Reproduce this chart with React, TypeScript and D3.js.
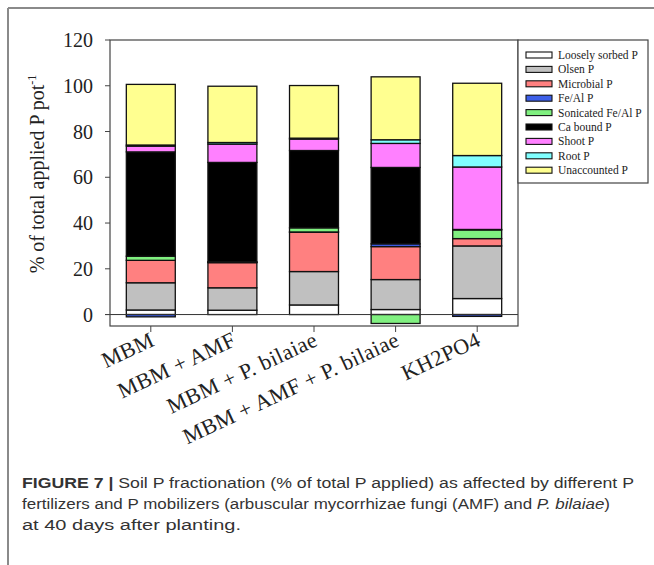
import React from 'react'
import * as d3 from 'd3'

const treatments = ['MBM', 'MBM + AMF', 'MBM + P. bilaiae', 'MBM + AMF + P. bilaiae', 'KH2PO4']

const fractions = [
  'Loosely sorbed P',
  'Olsen P',
  'Microbial P',
  'Fe/Al P',
  'Sonicated Fe/Al P',
  'Ca bound P',
  'Shoot P',
  'Root P',
  'Unaccounted P',
]

const colors = ['#ffffff', '#c0c0c0', '#ff8080', '#3d5fe8', '#80f080', '#000000', '#ff80ff', '#80ffff', '#ffff90']

const looselySorbed = [2.0, 1.9, 4.2, 2.2, 7.0]
const olsen = [11.9, 9.8, 14.6, 13.1, 23.0]
const microbial = [9.8, 11.0, 17.2, 14.4, 3.2]
const feAl = [-1.0, 0.1, 0.1, 1.2, -0.8]
const sonicated = [1.8, 0.3, 1.8, -3.9, 3.8]
const caBound = [45.6, 43.4, 33.8, 33.4, 0.2]
const shoot = [2.5, 8.0, 5.0, 10.5, 27.3]
const root = [0.5, 0.7, 0.4, 1.6, 5.0]
const unaccounted = [26.5, 24.6, 23.0, 27.5, 31.6]

const yTicks = [0, 20, 40, 60, 80, 100, 120]

const series = [looselySorbed, olsen, microbial, feAl, sonicated, caBound, shoot, root, unaccounted]

const rows = treatments.map((t, i) => {
  const r: Record<string, any> = { treatment: t }
  fractions.forEach((f, j) => (r[f] = series[j][i]))
  return r
})

const serif = '"Liberation Serif", "Times New Roman", serif'

export default function App() {
  const margin = { left: 110, right: 518, top: 40, bottom: 326 }

  const x = d3.scaleBand().domain(treatments).range([margin.left, margin.right]).paddingInner(0.4).paddingOuter(0.2)
  const y = d3.scaleLinear().domain([-5, 120]).range([margin.bottom, margin.top])

  const stacked = d3.stack().keys(fractions).offset(d3.stackOffsetDiverging)(rows as any)

  return (
    <svg width={654} height={565} style={{ position: 'absolute', left: 0, top: 0, background: '#fff' }}>
      {/* outer figure frame */}
      <line x1={8} x2={654} y1={8} y2={8} stroke="#8a8a8a" strokeWidth={2} />
      <line x1={8} x2={8} y1={8} y2={565} stroke="#8a8a8a" strokeWidth={2} />

      {/* bars */}
      {stacked.map((s, j) =>
        s.map((d, i) => {
          const y0 = y(d[0])
          const y1 = y(d[1])
          if (Math.abs(y0 - y1) < 0.01) return null
          return (
            <rect
              key={`${j}-${i}`}
              x={x(treatments[i])}
              y={Math.min(y0, y1)}
              width={x.bandwidth()}
              height={Math.abs(y0 - y1)}
              fill={colors[j]}
              stroke="#111"
              strokeWidth={1.3}
            />
          )
        })
      )}

      {/* zero line */}
      <line x1={margin.left - 5} x2={margin.right} y1={y(0)} y2={y(0)} stroke="#333" strokeWidth={1} />

      {/* plot frame */}
      <rect
        x={margin.left}
        y={margin.top}
        width={margin.right - margin.left}
        height={margin.bottom - margin.top}
        fill="none"
        stroke="#444"
        strokeWidth={1.2}
      />

      {/* y axis */}
      {yTicks.map((t) => (
        <g key={t}>
          <line x1={margin.left - 5} x2={margin.left} y1={y(t)} y2={y(t)} stroke="#444" />
          <text
            x={margin.left - 17}
            y={y(t)}
            dy="0.35em"
            textAnchor="end"
            fontFamily={serif}
            fontSize={20}
            fill="#222"
          >
            {t}
          </text>
        </g>
      ))}
      <text
        transform={`translate(44,${(margin.top + margin.bottom) / 2 - 9}) rotate(-90)`}
        textAnchor="middle"
        fontFamily={serif}
        fontSize={20}
        fill="#222"
      >
        % of total applied P pot
        <tspan dy={-8} fontSize={12}>
          -1
        </tspan>
      </text>

      {/* x axis */}
      {treatments.map((t) => {
        const cx = (x(t) as number) + x.bandwidth() / 2
        return (
          <g key={t}>
            <line x1={cx} x2={cx} y1={margin.bottom} y2={margin.bottom + 6} stroke="#444" />
            <text
              transform={`translate(${cx + 5},${margin.bottom + 19}) rotate(-25)`}
              textAnchor="end"
              fontFamily={serif}
              fontSize={22}
              letterSpacing={0.4}
              fill="#222"
            >
              {t}
            </text>
          </g>
        )
      })}

      {/* legend */}
      <rect x={518} y={40} width={130} height={143} fill="#fff" stroke="#444" strokeWidth={1.2} />
      {fractions.map((f, j) => (
        <g key={f} transform={`translate(526,${55 + j * 14.4})`}>
          <rect x={0} y={-3} width={26} height={6} fill={colors[j]} stroke="#111" strokeWidth={1.1} />
          <text x={32} y={0} dy="0.35em" fontFamily={serif} fontSize={11.5} fill="#222">
            {f}
          </text>
        </g>
      ))}

      {/* caption */}
      <g fontFamily='"Liberation Sans", Arial, sans-serif' fontSize={15.5} fill="#333">
        <text x={22} y={488} textLength={612} lengthAdjust="spacingAndGlyphs">
          <tspan fontWeight="bold">FIGURE 7 | </tspan>
          Soil P fractionation (% of total P applied) as affected by different P
        </text>
        <text x={22} y={509} textLength={588} lengthAdjust="spacingAndGlyphs">
          fertilizers and P mobilizers (arbuscular mycorrhizae fungi (AMF) and <tspan fontStyle="italic">P. bilaiae</tspan>)
        </text>
        <text x={22} y={530} textLength={219} lengthAdjust="spacingAndGlyphs">
          at 40 days after planting.
        </text>
      </g>
    </svg>
  )
}
